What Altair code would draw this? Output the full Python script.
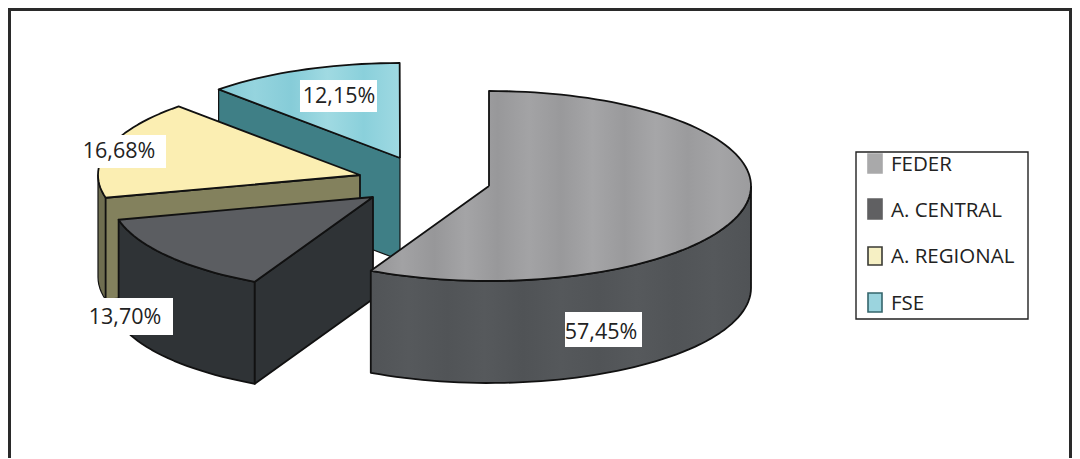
import math
import altair as alt
import pandas as pd

categories = ["FEDER", "A. CENTRAL", "A. REGIONAL", "FSE"]
shares = [57.45, 13.70, 16.68, 12.15]
labels = ["57,45%", "13,70%", "16,68%", "12,15%"]

# layout of the exploded pie (picture coordinates)
W, H = 1064, 450
RX, RY, DEPTH = 262, 95, 102
APEX = {"FEDER": (489, 186), "A. CENTRAL": (373, 197), "A. REGIONAL": (360, 175), "FSE": (400, 158)}
TOP = {
    "A. CENTRAL": "#5b5d61",
    "A. REGIONAL": "#fbeeb2",
}
SIDE = {"FEDER": "#54575a", "A. CENTRAL": "#2f3336", "A. REGIONAL": "#83815d", "FSE": "#3f7f86"}

x_s = alt.Scale(domain=[8, 8 + W], range=[0, W], nice=False, zero=False)
y_s = alt.Scale(domain=[8 + H, 8], range=[H, 0], nice=False, zero=False)


def stripes(cols):
    n = len(cols) - 1
    return alt.Gradient(
        gradient="linear", x1=0, y1=0, x2=1, y2=0,
        stops=[alt.GradientStop(offset=i / n, color=c) for i, c in enumerate(cols)],
    )


FEDER_TOP = stripes(["#949496", "#a2a2a4", "#979799", "#a4a4a6", "#98989a", "#a3a3a5", "#99999b",
                     "#a5a5a7", "#9a9a9c", "#a6a6a8", "#9b9b9d", "#a4a4a6", "#9c9c9e"])
FEDER_SIDE = stripes(["#515457", "#56595c", "#515457", "#56595c", "#505356", "#55585b", "#515457",
                      "#56595c", "#515457", "#55585b", "#505356"])
FSE_TOP = stripes(["#84c9d6", "#95d4de", "#86ccd8", "#a0dae2", "#8ad0db", "#9fd9e2"])


def pt(cat, ang, dy=0):
    ax, ay = APEX[cat]
    t = math.radians(ang)
    return ax + RX * math.sin(t), ay - RY * math.cos(t) + dy


def arc(cat, a0, a1, dy=0):
    n = max(2, int(abs(a1 - a0) / 2))
    return [pt(cat, a0 + (a1 - a0) * i / n, dy) for i in range(n + 1)]


def poly(points, fill, stroke="#111111", sw=1.8):
    closed = list(points) + [points[0]]
    df = pd.DataFrame({"x": [p[0] for p in closed], "y": [p[1] for p in closed], "i": range(len(closed))})
    return alt.Chart(df).mark_line(fill=fill, stroke=stroke, strokeWidth=sw, strokeJoin="round", clip=False).encode(
        x=alt.X("x:Q", scale=x_s, axis=None),
        y=alt.Y("y:Q", scale=y_s, axis=None),
        order="i:Q",
    )


starts = {}
acc = 0.0
for c, s in zip(categories, shares):
    starts[c] = (acc * 3.6, (acc + s) * 3.6)
    acc += s

layers = []

# FSE
a0, a1 = starts["FSE"]
ax, ay = APEX["FSE"]
layers.append(poly([pt("FSE", a0), (ax, ay), (ax, ay + DEPTH), pt("FSE", a0, DEPTH)], SIDE["FSE"], sw=1.2))
layers.append(poly([(ax, ay)] + arc("FSE", a0, a1), FSE_TOP))

# A. REGIONAL
a0, a1 = starts["A. REGIONAL"]
ax, ay = APEX["A. REGIONAL"]
layers.append(poly(arc("A. REGIONAL", a0, 270) + arc("A. REGIONAL", 270, a0, DEPTH), "#6f6e50", sw=1.2))
layers.append(poly([pt("A. REGIONAL", a0), (ax, ay), (ax, ay + DEPTH), pt("A. REGIONAL", a0, DEPTH)], SIDE["A. REGIONAL"]))
layers.append(poly([(ax, ay)] + arc("A. REGIONAL", a0, a1), TOP["A. REGIONAL"]))

# A. CENTRAL
a0, a1 = starts["A. CENTRAL"]
ax, ay = APEX["A. CENTRAL"]
layers.append(poly(arc("A. CENTRAL", a0, a1) + arc("A. CENTRAL", a1, a0, DEPTH), SIDE["A. CENTRAL"]))
layers.append(poly([pt("A. CENTRAL", a0), (ax, ay), (ax, ay + DEPTH), pt("A. CENTRAL", a0, DEPTH)], SIDE["A. CENTRAL"]))
layers.append(poly([(ax, ay)] + arc("A. CENTRAL", a0, a1), TOP["A. CENTRAL"]))

# FEDER
a0, a1 = starts["FEDER"]
ax, ay = APEX["FEDER"]
layers.append(poly(arc("FEDER", 90, a1) + arc("FEDER", a1, 90, DEPTH), FEDER_SIDE))
layers.append(poly([(ax, ay)] + arc("FEDER", a0, a1), FEDER_TOP))

# label boxes and texts
FONT = "Open Sans"
box_df = pd.DataFrame({
    "label": labels,
    "x0": [565, 86, 78, 300], "x1": [642, 173, 166, 377],
    "y0": [312, 298, 135, 80], "y1": [347, 335, 168, 112],
    "tx": [601, 125, 119, 339], "ty": [333, 318, 152, 97],
})
layers.append(alt.Chart(box_df).mark_rect(fill="white", stroke=None).encode(
    x=alt.X("x0:Q", scale=x_s, axis=None), x2="x1:Q",
    y=alt.Y("y0:Q", scale=y_s, axis=None), y2="y1:Q"))
layers.append(alt.Chart(box_df).mark_text(font=FONT, fontSize=21.5, color="#222222", align="center", baseline="middle").encode(
    x=alt.X("tx:Q", scale=x_s, axis=None), y=alt.Y("ty:Q", scale=y_s, axis=None), text="label:N"))

# legend box
leg_box = pd.DataFrame({"x0": [856], "x1": [1028], "y0": [152], "y1": [319]})
layers.append(alt.Chart(leg_box).mark_rect(fill="white", stroke="#222222", strokeWidth=1.4).encode(
    x=alt.X("x0:Q", scale=x_s, axis=None), x2="x1:Q",
    y=alt.Y("y0:Q", scale=y_s, axis=None), y2="y1:Q"))
leg = pd.DataFrame({
    "cat": categories,
    "x0": [868, 868, 868, 868], "x1": [882, 882, 882, 882],
    "y0": [154, 199, 247, 293], "y1": [173, 219, 265, 312],
    "tx": [891, 891, 891, 891], "ty": [165, 211, 257, 304],
    "fill": ["#a9a9aa", "#606062", "#f6f0c4", "#9bd4de"],
    "line": ["#a9a9aa", "#606062", "#3a3a34", "#35656c"],
})
layers.append(alt.Chart(leg).mark_rect(strokeWidth=1.6).encode(
    x=alt.X("x0:Q", scale=x_s, axis=None), x2="x1:Q",
    y=alt.Y("y0:Q", scale=y_s, axis=None), y2="y1:Q",
    fill=alt.Fill("fill:N", scale=None), stroke=alt.Stroke("line:N", scale=None)))
layers.append(alt.Chart(leg).mark_text(font=FONT, fontSize=20.5, color="#222222", align="left", baseline="middle").encode(
    x=alt.X("tx:Q", scale=x_s, axis=None), y=alt.Y("ty:Q", scale=y_s, axis=None), text="cat:N"))

# frame: open at the bottom
frame = pd.DataFrame({"x": [9.5, 9.5, 1070.5, 1070.5], "y": [459, 9.5, 9.5, 459], "i": [0, 1, 2, 3]})
layers.append(alt.Chart(frame).mark_line(stroke="#2a2a2a", strokeWidth=3, clip=False).encode(
    x=alt.X("x:Q", scale=x_s, axis=None), y=alt.Y("y:Q", scale=y_s, axis=None), order="i:Q"))

chart = alt.layer(*layers).properties(
    width=W, height=H, padding=0, autosize=alt.AutoSizeParams(type="none"), background="white"
).configure_view(stroke=None)

chart.save("out.html", embed_options={"renderer": "svg", "actions": False})
